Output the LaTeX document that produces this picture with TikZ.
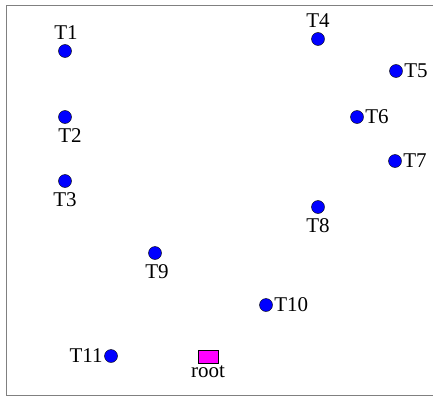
\documentclass[tikz,border=0pt]{standalone}
\usepackage{fontspec}
\setmainfont{Liberation Serif}
\definecolor{rootpink}{RGB}{255,0,255}
\tikzset{
  tnode/.style={fill=blue, draw=black, circle, inner sep=0pt, minimum size=13pt},
  tlabel/.style={inner xsep=1.5pt, inner ysep=4.5pt, font=\fontsize{21}{25}\selectfont},
}
\begin{document}
\begin{tikzpicture}[x=1pt, y=-1pt, every label/.style={tlabel}, label distance=0pt]
\useasboundingbox (0,0) rectangle (433,396);
\draw[gray, line width=1pt] (6.5,6) rectangle (440,395); % field border

% targets: number / x / y / label side / label shift
\foreach \n/\x/\y/\p/\s in {1/65/51/above/1, 2/65/117/below/5, 3/65/181/below/0,
    4/318/39/above/0, 5/396/71/right/0, 6/357/117/right/0, 7/395/161/right/0,
    8/318/207/below/0, 9/155/253/below/2, 10/266/305/right/0, 11/111/356/left/0}
  \node[tnode, label={[xshift=\s pt]\p:T\n}] (t\n) at (\x,\y) {};

\node[draw=black, fill=rootpink, minimum width=20pt, minimum height=13pt, inner sep=0pt,
  label={[inner ysep=2pt]below:root}] (root) at (208,357) {};
\end{tikzpicture}
\end{document}
